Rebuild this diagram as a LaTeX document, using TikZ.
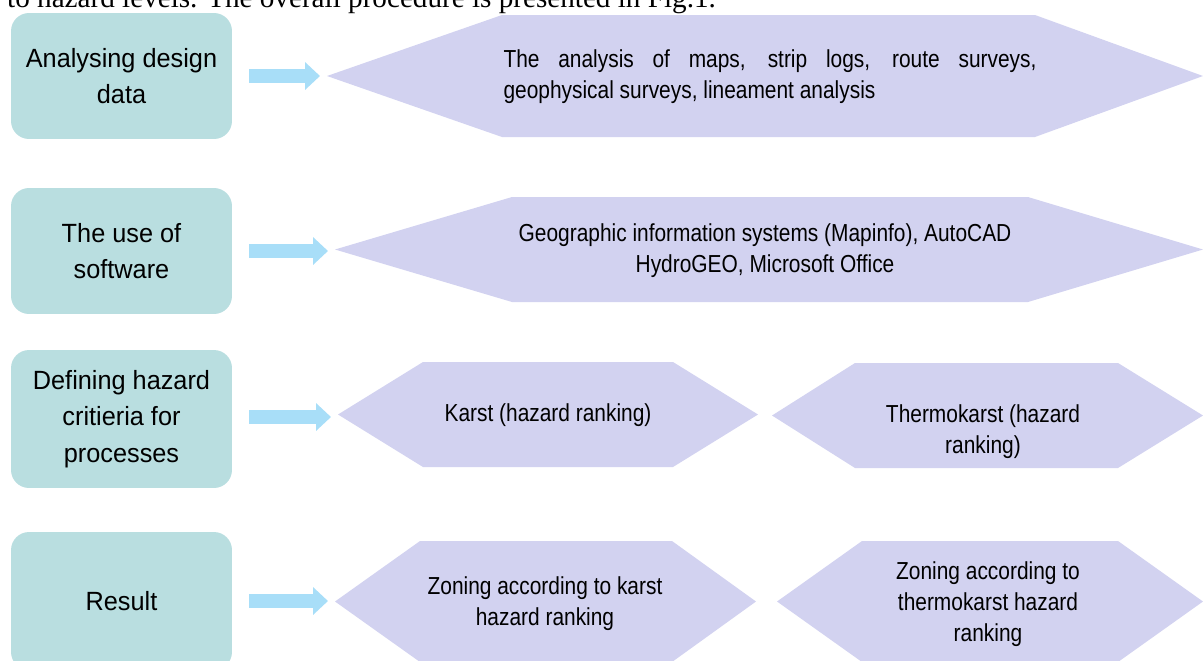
\documentclass[tikz,border=0pt]{standalone}
\usepackage{fontspec}
\setmainfont{Liberation Serif}
\newfontfamily\boxfont[FakeStretch=0.96]{Liberation Sans}
\newfontfamily\hexfont[FakeStretch=0.85]{Liberation Sans}
\usetikzlibrary{arrows.meta}
\definecolor{stagecol}{RGB}{185,222,224}
\definecolor{hexcol}{RGB}{210,210,240}
\definecolor{arrowcol}{RGB}{168,222,248}
% hexagon: name, left tip, left corner, right corner, right tip, top, bottom
\newcommand{\hexpanel}[7]{%
\fill[hexcol] (#2,{(#6+#7)/2}) -- (#3,#6) -- (#4,#6) -- (#5,{(#6+#7)/2}) -- (#4,#7) -- (#3,#7) -- cycle;
\coordinate (#1) at (#2,{(#6+#7)/2});}
\begin{document}
\begin{tikzpicture}[x=0.02cm,y=-0.02cm,
  stage/.style={fill=stagecol,rounded corners=0.36cm,minimum width=4.42cm,align=center,
    font=\boxfont\fontsize{15}{20.8}\selectfont},
  hextext/.style={align=center,font=\hexfont\fontsize{14}{17.6}\selectfont},
  flowarrow/.style={draw=arrowcol,line width=0.28cm,shorten <=0.34cm,shorten >=0.14cm,
    -{Triangle[length=0.3cm,width=0.54cm]}}]
\clip (0,0) rectangle (1203,660);
\node[anchor=base west,font=\fontsize{16.6}{20}\selectfont] (intro) at (1,7)
  {to hazard levels. The overall procedure is presented in Fig.1.};
% stages
\node[stage,minimum height=2.52cm] (b1) at (121.5,76) {Analysing design\\data};
\node[stage,minimum height=2.52cm] (b2) at (121.5,251) {The use of\\software};
\node[stage,minimum height=2.76cm] (b3) at (121.5,419) {Defining hazard\\critieria for\\processes};
\node[stage,minimum height=2.76cm] (b4) at (121.5,601) {Result};
% panels
\hexpanel{h1}{327}{502}{1035}{1203}{15}{137}
\hexpanel{h2}{335}{512}{1028}{1203}{197}{302}
\hexpanel{h3}{338}{423}{673}{758}{362}{467}
\hexpanel{h4}{772}{855}{1118}{1203}{363}{468}
\hexpanel{h5}{335}{420}{672}{756}{541}{662}
\hexpanel{h6}{777}{862}{1118}{1203}{541}{662}
\node[hextext,align=justify,text width=10.66cm] (t1) at (770,77)
  {The analysis of maps, strip logs, route surveys,\linebreak geophysical surveys, lineament analysis};
\node[hextext] (t2) at (765,251) {Geographic information systems (Mapinfo), AutoCAD\\HydroGEO, Microsoft Office};
\node[hextext] (t3) at (548,415) {Karst (hazard ranking)};
\node[hextext] (t4) at (983,432) {Thermokarst (hazard\\ranking)};
\node[hextext] (t5) at (545,604) {Zoning according to karst\\hazard ranking};
\node[hextext] (t6) at (988,604) {Zoning according to\\thermokarst hazard\\ranking};
% arrows
\draw[flowarrow] (b1.east) -- (b1.east -| h1);
\draw[flowarrow] (b2.east) -- (b2.east -| h2);
\draw[flowarrow] ([yshift=0.04cm]b3.east) -- ([yshift=0.04cm]b3.east -| h3);
\draw[flowarrow] (b4.east) -- (b4.east -| h5);
\end{tikzpicture}
\end{document}
